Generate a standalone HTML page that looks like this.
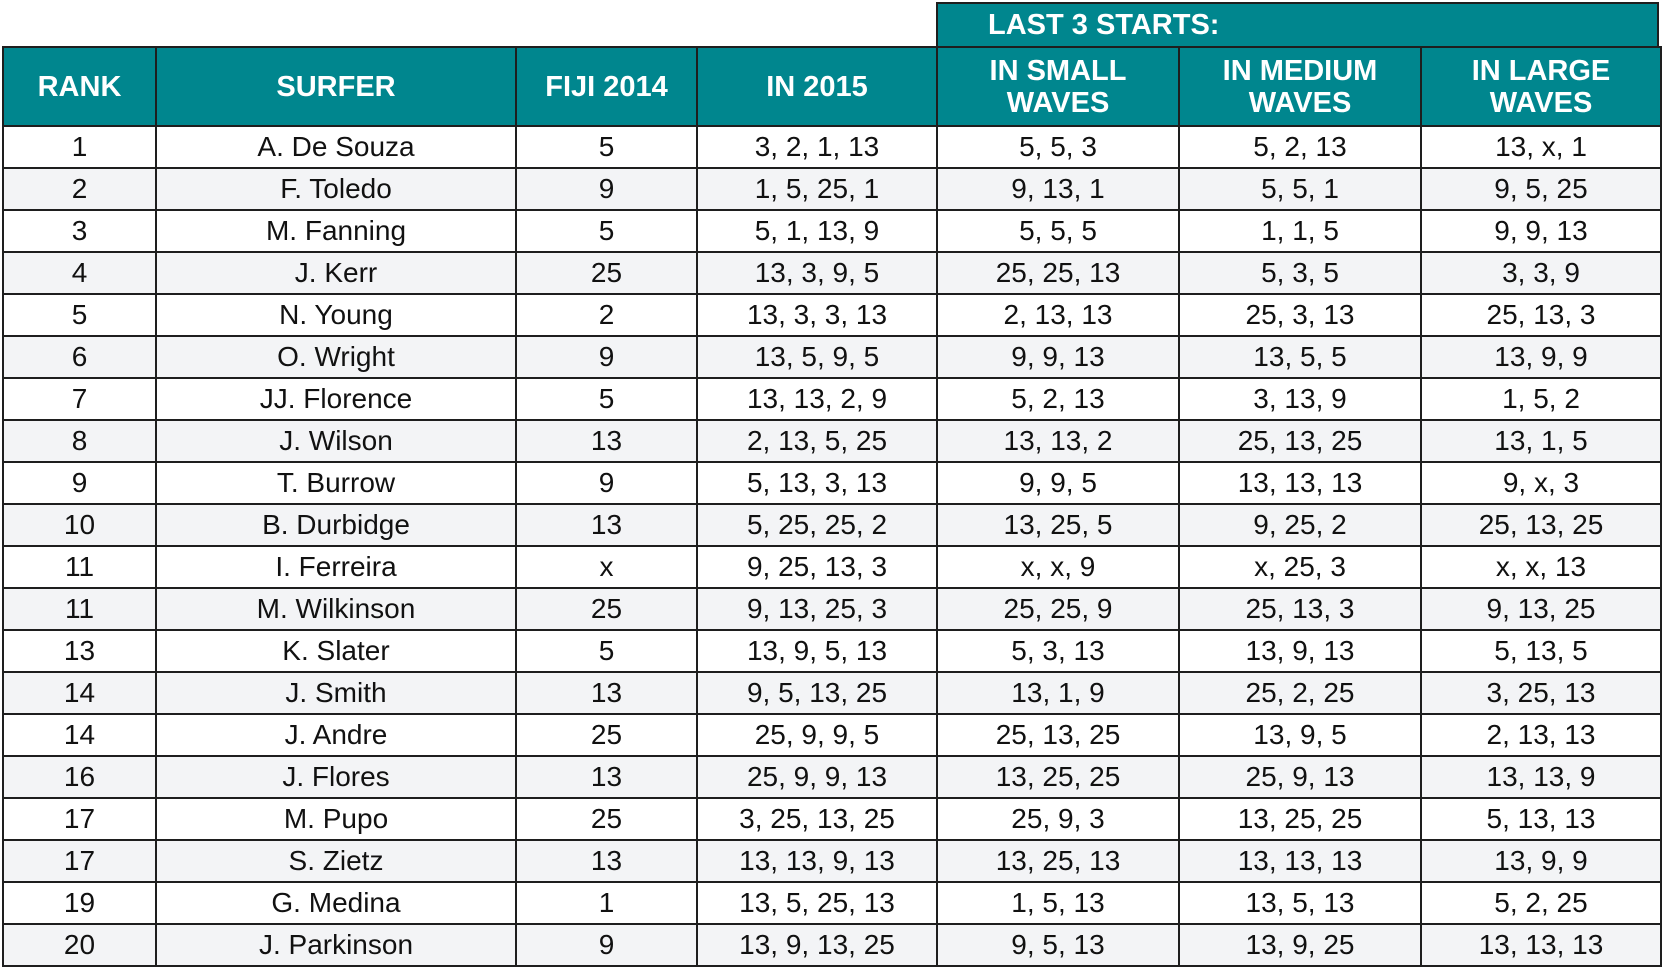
<!DOCTYPE html>
<html><head><meta charset="utf-8"><style>
body{margin:0;width:1663px;height:970px;background:#fff;position:relative;overflow:hidden;font-family:"Liberation Sans",Arial,sans-serif;}
.grp{position:absolute;left:936px;top:2px;width:723px;height:45px;background:#00868e;border:2px solid #1e1e1e;border-bottom:none;box-sizing:border-box;color:#fff;font-weight:bold;font-size:29px;line-height:43px;padding-left:50px;}
table{position:absolute;left:2px;top:46px;border-collapse:collapse;table-layout:fixed;width:1658px;}
td,th{border:2px solid #1e1e1e;text-align:center;padding:0;font-size:28px;color:#111;}
th{background:#00868e;color:#fff;font-size:29px;line-height:32px;height:77px;}
td{height:40px;line-height:40px;}
tr:nth-child(even) td{background:#f3f4f6;}
tr:nth-child(odd) td{background:#fff;}
tbody tr td{border-top:2px solid #333;}
</style></head><body>
<div class="grp">LAST 3 STARTS:</div>
<table>
<colgroup><col style="width:153px"><col style="width:360px"><col style="width:181px"><col style="width:240px"><col style="width:242px"><col style="width:242px"><col style="width:240px"></colgroup>
<thead><tr><th>RANK</th><th>SURFER</th><th>FIJI 2014</th><th>IN 2015</th><th>IN SMALL<br>WAVES</th><th>IN MEDIUM<br>WAVES</th><th>IN LARGE<br>WAVES</th></tr></thead>
<tbody>
<tr><td>1</td><td>A. De Souza</td><td>5</td><td>3, 2, 1, 13</td><td>5, 5, 3</td><td>5, 2, 13</td><td>13, x, 1</td></tr>
<tr><td>2</td><td>F. Toledo</td><td>9</td><td>1, 5, 25, 1</td><td>9, 13, 1</td><td>5, 5, 1</td><td>9, 5, 25</td></tr>
<tr><td>3</td><td>M. Fanning</td><td>5</td><td>5, 1, 13, 9</td><td>5, 5, 5</td><td>1, 1, 5</td><td>9, 9, 13</td></tr>
<tr><td>4</td><td>J. Kerr</td><td>25</td><td>13, 3, 9, 5</td><td>25, 25, 13</td><td>5, 3, 5</td><td>3, 3, 9</td></tr>
<tr><td>5</td><td>N. Young</td><td>2</td><td>13, 3, 3, 13</td><td>2, 13, 13</td><td>25, 3, 13</td><td>25, 13, 3</td></tr>
<tr><td>6</td><td>O. Wright</td><td>9</td><td>13, 5, 9, 5</td><td>9, 9, 13</td><td>13, 5, 5</td><td>13, 9, 9</td></tr>
<tr><td>7</td><td>JJ. Florence</td><td>5</td><td>13, 13, 2, 9</td><td>5, 2, 13</td><td>3, 13, 9</td><td>1, 5, 2</td></tr>
<tr><td>8</td><td>J. Wilson</td><td>13</td><td>2, 13, 5, 25</td><td>13, 13, 2</td><td>25, 13, 25</td><td>13, 1, 5</td></tr>
<tr><td>9</td><td>T. Burrow</td><td>9</td><td>5, 13, 3, 13</td><td>9, 9, 5</td><td>13, 13, 13</td><td>9, x, 3</td></tr>
<tr><td>10</td><td>B. Durbidge</td><td>13</td><td>5, 25, 25, 2</td><td>13, 25, 5</td><td>9, 25, 2</td><td>25, 13, 25</td></tr>
<tr><td>11</td><td>I. Ferreira</td><td>x</td><td>9, 25, 13, 3</td><td>x, x, 9</td><td>x, 25, 3</td><td>x, x, 13</td></tr>
<tr><td>11</td><td>M. Wilkinson</td><td>25</td><td>9, 13, 25, 3</td><td>25, 25, 9</td><td>25, 13, 3</td><td>9, 13, 25</td></tr>
<tr><td>13</td><td>K. Slater</td><td>5</td><td>13, 9, 5, 13</td><td>5, 3, 13</td><td>13, 9, 13</td><td>5, 13, 5</td></tr>
<tr><td>14</td><td>J. Smith</td><td>13</td><td>9, 5, 13, 25</td><td>13, 1, 9</td><td>25, 2, 25</td><td>3, 25, 13</td></tr>
<tr><td>14</td><td>J. Andre</td><td>25</td><td>25, 9, 9, 5</td><td>25, 13, 25</td><td>13, 9, 5</td><td>2, 13, 13</td></tr>
<tr><td>16</td><td>J. Flores</td><td>13</td><td>25, 9, 9, 13</td><td>13, 25, 25</td><td>25, 9, 13</td><td>13, 13, 9</td></tr>
<tr><td>17</td><td>M. Pupo</td><td>25</td><td>3, 25, 13, 25</td><td>25, 9, 3</td><td>13, 25, 25</td><td>5, 13, 13</td></tr>
<tr><td>17</td><td>S. Zietz</td><td>13</td><td>13, 13, 9, 13</td><td>13, 25, 13</td><td>13, 13, 13</td><td>13, 9, 9</td></tr>
<tr><td>19</td><td>G. Medina</td><td>1</td><td>13, 5, 25, 13</td><td>1, 5, 13</td><td>13, 5, 13</td><td>5, 2, 25</td></tr>
<tr><td>20</td><td>J. Parkinson</td><td>9</td><td>13, 9, 13, 25</td><td>9, 5, 13</td><td>13, 9, 25</td><td>13, 13, 13</td></tr>
</tbody></table>
</body></html>
